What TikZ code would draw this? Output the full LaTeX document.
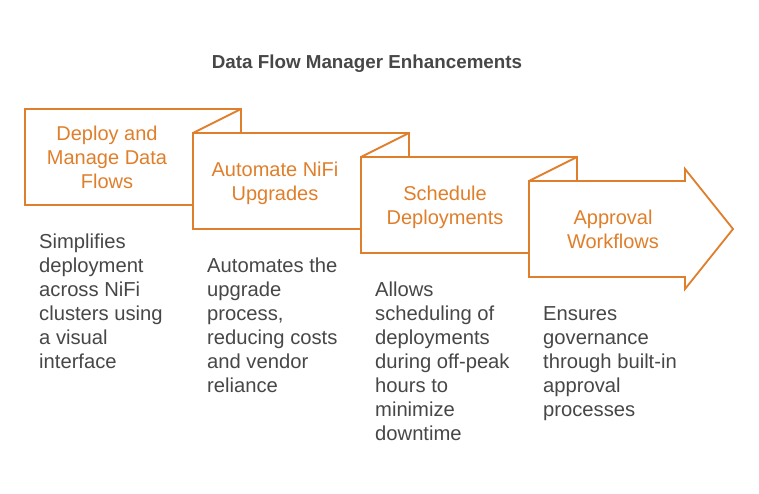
\documentclass[tikz,border=0pt]{standalone}
\usepackage{fontspec}
\setmainfont{Liberation Sans}
\definecolor{org}{HTML}{E07F2B}
\definecolor{txt}{HTML}{474747}
\tikzset{
 shapeline/.style={draw=org,line width=2pt,line join=miter,fill=white},
 head/.style={text=org,font=\fontsize{20pt}{24pt}\selectfont,align=center,anchor=center,inner sep=0},
 body/.style={text=txt,font=\fontsize{20.2pt}{24pt}\selectfont,align=left,anchor=north west,inner sep=0},
}
\begin{document}
\begin{tikzpicture}[x=1pt,y=-1pt]
\useasboundingbox (0,0) rectangle (759,494);
\fill[white] (0,0) rectangle (759,494);
\node[font=\fontsize{18.8pt}{22pt}\selectfont\bfseries,text=txt,inner sep=0] (title) at (367,63.3) {Data Flow Manager Enhancements};
\draw[shapeline] (25,109) -- (241,109) -- (241,133) -- (193,133) -- (193,205) -- (25,205) -- cycle;
\draw[shapeline] (193,133) -- (241,109);
\draw[shapeline] (193,133) -- (409,133) -- (409,157) -- (361,157) -- (361,229) -- (193,229) -- cycle;
\draw[shapeline] (361,157) -- (409,133);
\draw[shapeline] (361,157) -- (577,157) -- (577,181) -- (529,181) -- (529,253) -- (361,253) -- cycle;
\draw[shapeline] (529,181) -- (577,157);
\draw[shapeline,line width=1.8pt] (529,181) -- (685,181) -- (685,169) -- (733,229) -- (685,289) -- (685,277) -- (529,277) -- cycle;
\node[head] (h1) at (107,157) {Deploy and\\Manage Data\\Flows};
\node[head] (h2) at (275,183) {Automate NiFi\\Upgrades};
\node[head] (h3) at (445,207) {Schedule\\Deployments};
\node[head] (h4) at (613,229) {Approval\\Workflows};
\node[body] (b1) at (39,234) {Simplifies\\deployment\\across NiFi\\clusters using\\a visual\\interface};
\node[body] (b2) at (207,258) {Automates the\\upgrade\\process,\\reducing costs\\and vendor\\reliance};
\node[body] (b3) at (375,282) {Allows\\scheduling of\\deployments\\during off-peak\\hours to\\minimize\\downtime};
\node[body] (b4) at (543,306) {Ensures\\governance\\through built-in\\approval\\processes};
\end{tikzpicture}
\end{document}
